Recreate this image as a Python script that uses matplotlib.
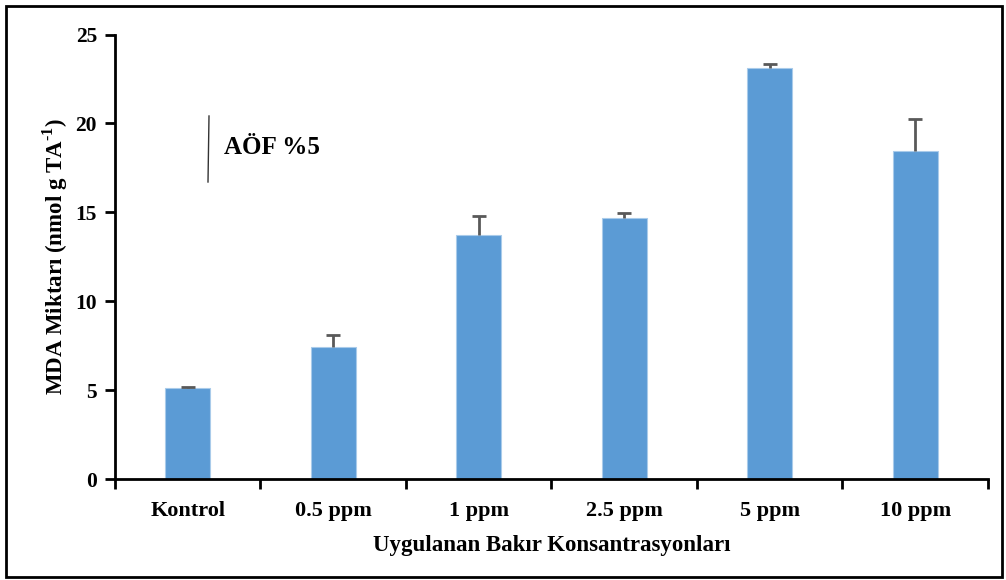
import matplotlib
matplotlib.use("Agg")
import matplotlib.pyplot as plt
from matplotlib.patches import Rectangle
from matplotlib.lines import Line2D

categories = ["Kontrol", "0.5 ppm", "1 ppm", "2.5 ppm", "5 ppm", "10 ppm"]
values = [5.12, 7.40, 13.70, 14.68, 23.12, 18.45]
errors = [0.06, 0.72, 1.10, 0.28, 0.24, 1.80]
yticks = [0, 5, 10, 15, 20, 25]

plt.rcParams['font.family'] = ['Liberation Serif', 'DejaVu Serif']
plt.rcParams['font.weight'] = 'bold'
plt.rcParams['mathtext.fontset'] = 'custom'
plt.rcParams['mathtext.rm'] = 'Liberation Serif:bold'
plt.rcParams['mathtext.bf'] = 'Liberation Serif:bold'

fig = plt.figure(figsize=(10.06, 5.8), dpi=100)
ax = fig.add_axes([0.1143, 0.1741, 0.8677, 0.7664])

x = [i + 0.5 for i in range(len(categories))]
tops = [v + e for v, e in zip(values, errors)]
ax.bar(x, values, width=0.31, color='#5B9BD5', edgecolor='#A9CBEA', linewidth=0.8, zorder=2)
ax.vlines(x, values, tops, color='#595959', linewidth=2, zorder=3)
ax.scatter(x, tops, marker='_', s=110, color='#595959', linewidths=2, zorder=3)

ax.set_xlim(0, 6)
ax.set_ylim(0, 25)
ax.set_yticks(yticks)
ax.set_yticklabels([str(t) for t in yticks], fontsize=15.5, fontweight='bold')
ax.set_xticks(range(7))
ax.set_xticklabels([''] * 7)
ax.set_xticks(x, minor=True)
ax.set_xticklabels(categories, minor=True, fontsize=16, fontweight='bold')
ax.tick_params(axis='x', which='major', direction='out', length=7, width=2)
ax.tick_params(axis='x', which='minor', length=0, pad=16)
ax.tick_params(axis='y', direction='out', length=7, width=2, pad=6)

for s in ['top', 'right']:
    ax.spines[s].set_visible(False)
for s in ['left', 'bottom']:
    ax.spines[s].set_linewidth(2)
    ax.spines[s].set_color('black')

ax.set_ylabel(r'MDA Miktarı (nmol g TA$^{\text{-1}}$)', fontsize=16.5, fontweight='bold', labelpad=4)
ax.set_xlabel('Uygulanan Bakır Konsantrasyonları', fontsize=16.5, fontweight='bold', labelpad=10)

# annotation
fig.add_artist(Line2D([209 / 1006, 208 / 1006], [1 - 116 / 580, 1 - 182 / 580],
                      color='#333333', linewidth=1))
fig.text(224 / 1006, 1 - 147 / 580, 'AÖF %5', fontsize=18, fontweight='bold', va='center', ha='left')

# frame
fig.add_artist(Rectangle((6 / 1006, 3 / 580), 996 / 1006, 571 / 580, transform=fig.transFigure,
                         fill=False, edgecolor='black', linewidth=2))

fig.savefig('out.png', dpi=100)
